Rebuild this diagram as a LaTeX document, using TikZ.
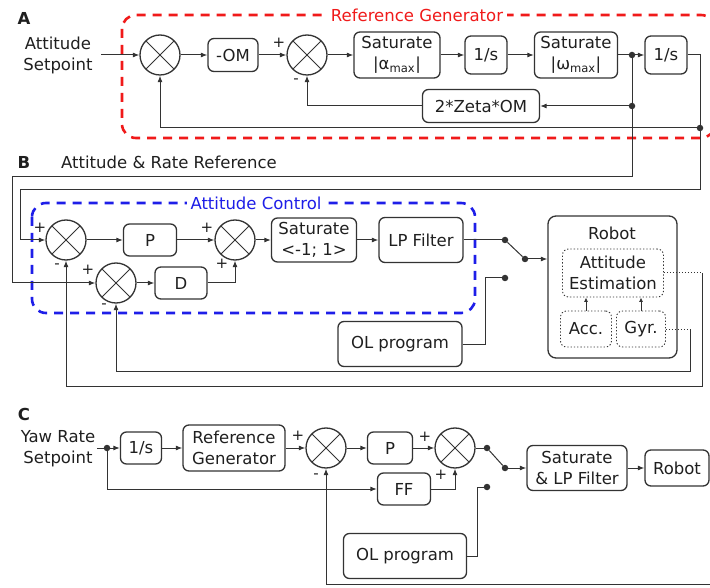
\documentclass[tikz,border=0pt]{standalone}
\usepackage{fontspec}
\setmainfont{DejaVu Sans}
\usetikzlibrary{arrows.meta}

\definecolor{linec}{HTML}{333333}
\definecolor{textc}{HTML}{1F1F1F}
\definecolor{refred}{HTML}{F01A1A}
\definecolor{ctrlblue}{HTML}{1E1EE8}

\newcommand\mainsz{\fontsize{16.5pt}{21pt}\selectfont}
\newcommand\signsz{\fontsize{15pt}{15pt}\selectfont}

\tikzset{
  wire/.style={draw=linec, line width=1pt},
  arr/.style={wire, -{Latex[length=6.5pt,width=5pt]}},
  blk/.style={draw=linec, line width=1.3pt, rounded corners=6pt, text=textc, align=center, inner sep=0pt, font=\mainsz},
  est/.style={blk, dotted, line width=0.9pt},
  sumj/.style={circle, draw=linec, line width=1.3pt, minimum size=40pt, inner sep=0pt,
    path picture={\draw[linec, line width=1pt] (path picture bounding box.south west) -- (path picture bounding box.north east)
      (path picture bounding box.north west) -- (path picture bounding box.south east);}},
  dot/.style={circle, fill=linec, inner sep=0pt, minimum size=6.5pt},
  sgn/.style={text=textc, font=\signsz, inner sep=0pt},
  txt/.style={text=textc, font=\mainsz, align=center, inner sep=0pt},
  panel/.style={text=textc, font=\mainsz\bfseries, inner sep=0pt},
  grp/.style={dashed, dash pattern=on 9pt off 7pt, line width=2.6pt, rounded corners=14pt},
  grplbl/.style={font=\mainsz, fill=white, inner xsep=4pt, inner ysep=1pt},
}

\begin{document}
\begin{tikzpicture}[x=1pt,y=-1pt]
\useasboundingbox (0,0) rectangle (710,588);

% A: reference generator
\draw[grp, draw=refred] (122,15) rectangle (715,138);
\node[grplbl, text=refred] (refgen) at (417,15) {Reference Generator};

\node[panel] (pa) at (24,18) {A};
\node[txt] (aset) at (58,55) {Attitude\\Setpoint};
\coordinate (ain) at (101,55);

\node[sumj] (sa1) at (160,55) {};
\node[blk, minimum width=50pt, minimum height=33pt] (om) at (233,55) {-OM};
\node[sumj] (sa2) at (307,55) {};
\node[blk, minimum width=86pt, minimum height=46pt] (sata) at (397,55) {Saturate\\|α\textsubscript{max}|};
\node[blk, minimum width=42pt, minimum height=38pt] (int1) at (486,55) {1/s};
\node[blk, minimum width=83pt, minimum height=46pt] (satw) at (576,55) {Saturate\\|ω\textsubscript{max}|};
\node[dot] (ja) at (632,55) {};
\node[blk, minimum width=42pt, minimum height=38pt] (int2) at (666,55) {1/s};
\node[blk, minimum width=117pt, minimum height=33pt] (zeta) at (481,106) {2*Zeta*OM};
\node[dot] (jz) at (632,106) {};
\node[dot] (jatt) at (700,128) {};

\node[sgn] (pa2) at (279,43) {+};
\node[sgn] (ma2) at (296,81) {-};

\draw[arr] (ain) -- (sa1);
\draw[arr] (sa1) -- (om);
\draw[arr] (om) -- (sa2);
\draw[arr] (sa2) -- (sata);
\draw[arr] (sata) -- (int1);
\draw[arr] (int1) -- (satw);
\draw[wire] (satw) -- (ja);
\draw[arr] (ja) -- (int2);
\draw[wire] (ja) -- (jz);
\draw[arr] (jz) -- (zeta);
\draw[arr] (zeta) -| (sa2);
\draw[arr] (jatt) -| (sa1);

% B: attitude control
\draw[grp, draw=ctrlblue] (32,203) rectangle (475,313);
\node[grplbl, text=ctrlblue] (attctl) at (256,203) {Attitude Control};

\node[panel] (pb) at (24,162) {B};
\node[txt] (attref) at (169,162) {Attitude \& Rate Reference};

\node[sumj] (sb1) at (66,240) {};
\node[sumj] (sb2) at (116,283) {};
\node[sumj] (sb3) at (235,240) {};
\node[blk, minimum width=53pt, minimum height=32pt] (bp) at (150,240) {P};
\node[blk, minimum width=52pt, minimum height=32pt] (bd) at (181,283) {D};
\node[blk, minimum width=85pt, minimum height=44pt] (bsat) at (314,240) {Saturate\\<-1; 1>};
\node[blk, minimum width=84pt, minimum height=45pt] (blp) at (421,240) {LP Filter};
\node[dot] (sw1) at (505,240) {};
\node[dot] (sw2) at (525,259) {};
\node[dot] (sw3) at (505,278) {};
\node[blk, minimum width=124pt, minimum height=45pt] (olb) at (400,344) {OL program};

\node[blk, rounded corners=8pt, minimum width=129pt, minimum height=142pt] (robot) at (612.5,287) {};
\node[txt] (rlbl) at (612,233) {Robot};
\node[est, minimum width=101pt, minimum height=48pt] (attest) at (613,273) {Attitude\\Estimation};
\node[est, minimum width=51pt, minimum height=36pt] (acc) at (586,329) {Acc.};
\node[est, minimum width=49pt, minimum height=36pt] (gyr) at (641,329) {Gyr.};

\node[sgn] (pb1) at (40,228) {+};
\node[sgn] (mb1) at (57,266) {-};
\node[sgn] (pb2) at (88,270) {+};
\node[sgn] (mb2) at (104,306) {-};
\node[sgn] (pb3) at (207,228) {+};
\node[sgn] (pb3b) at (222,264) {+};

\draw[arr] (int2) -- (700,55) -- (700,190) -- (20,190) -- (20,240) -- (sb1);
\draw[arr] (jz) -- (632,177) -- (12,177) -- (12,283) -- (sb2);

\draw[arr] (sb1) -- (bp);
\draw[arr] (bp) -- (sb3);
\draw[arr] (sb2) -- (bd);
\draw[arr] (bd) -| (sb3);
\draw[arr] (sb3) -- (bsat);
\draw[arr] (bsat) -- (blp);
\draw[wire] (blp) -- (sw1);
\draw[wire] (sw1) -- (sw2);
\draw[arr] (sw2) -- (sw2 -| robot.west);
\draw[wire] (olb) -| (485,278) -- (sw3);

\draw[-{Latex[length=4.5pt,width=4pt]}, wire] (acc) -- (acc |- attest.south);
\draw[-{Latex[length=4.5pt,width=4pt]}, wire] (gyr) -- (gyr |- attest.south);

\coordinate (ea) at (702,273);
\coordinate (eg) at (690,329);
\draw[wire, dotted] (attest) -- (ea);
\draw[arr] (ea) |- (66,386) -- (sb1);
\draw[wire, dotted] (gyr) -- (eg);
\draw[arr] (eg) |- (116,371) -- (sb2);

% C: yaw rate
\node[panel] (pc) at (24,414) {C};
\node[txt] (yset) at (58,449) {Yaw Rate\\Setpoint};
\coordinate (yin) at (97,448);
\node[dot] (cj) at (107,448) {};

\node[blk, minimum width=41pt, minimum height=32pt] (cint) at (141,448) {1/s};
\node[blk, minimum width=102pt, minimum height=46pt] (cref) at (234,448) {Reference\\Generator};
\node[sumj] (sc1) at (326,448) {};
\node[blk, minimum width=45pt, minimum height=32pt] (cp) at (390,448) {P};
\node[sumj] (sc2) at (455,448) {};
\node[blk, minimum width=53pt, minimum height=32pt] (cff) at (404,489) {FF};
\node[dot] (csw1) at (487,448) {};
\node[dot] (csw2) at (505,468) {};
\node[dot] (csw3) at (487,487) {};
\node[blk, minimum width=100pt, minimum height=45pt] (csat) at (577,468) {Saturate\\\& LP Filter};
\node[blk, minimum width=64pt, minimum height=36pt] (crob) at (677,468) {Robot};
\node[blk, minimum width=123pt, minimum height=45pt] (colp) at (405,556) {OL program};
\coordinate (cout) at (711,584);

\node[sgn] (pc1) at (298,436) {+};
\node[sgn] (mc1) at (316,476) {-};
\node[sgn] (pc2) at (425,437) {+};
\node[sgn] (pc2b) at (441,475) {+};

\draw[wire] (yin) -- (cj);
\draw[arr] (cj) -- (cint);
\draw[arr] (cint) -- (cref);
\draw[arr] (cref) -- (sc1);
\draw[arr] (sc1) -- (cp);
\draw[arr] (cp) -- (sc2);
\draw[arr] (cj) |- (cff);
\draw[arr] (cff) -| (sc2);
\draw[wire] (sc2) -- (csw1);
\draw[wire] (csw1) -- (csw2);
\draw[arr] (csw2) -- (csw2 -| csat.west);
\draw[arr] (csat) -- (crob);
\draw[wire] (colp) -| (477,487) -- (csw3);
\draw[arr] (cout) -| (sc1);

\end{tikzpicture}
\end{document}
